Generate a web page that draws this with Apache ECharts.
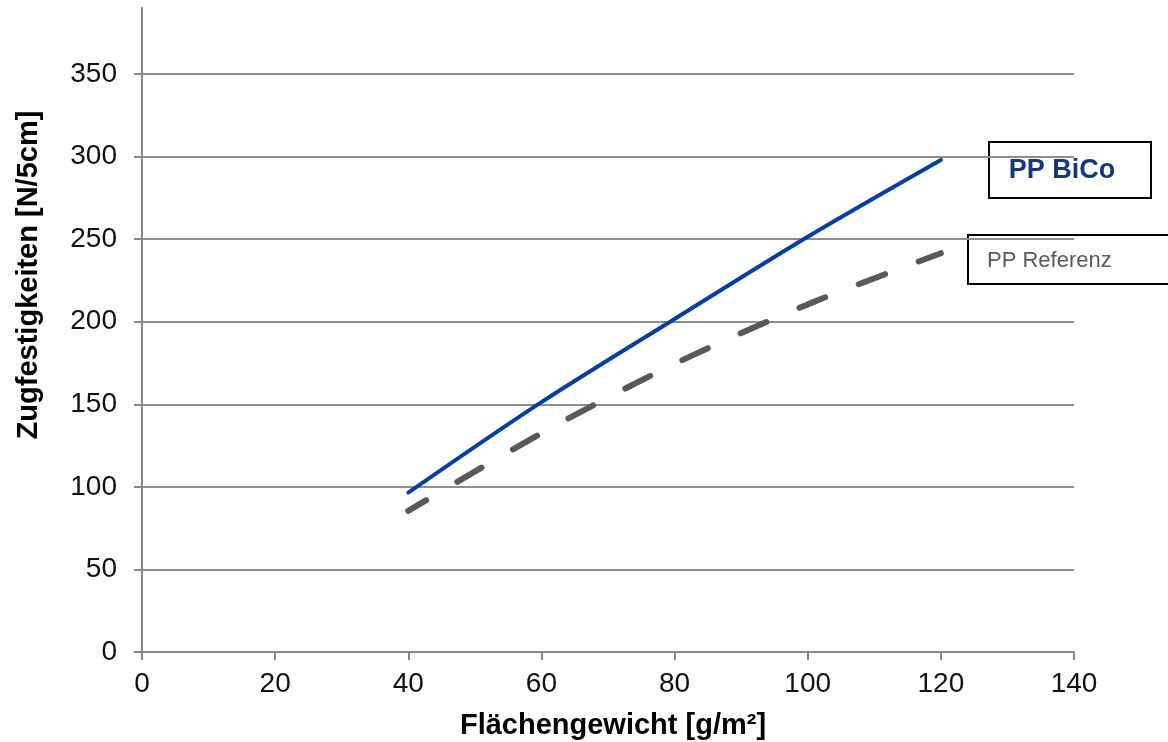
<!DOCTYPE html>
<html>
<head>
<meta charset="utf-8">
<style>
  html, body { margin: 0; padding: 0; background: #fff; }
  #chart { width: 1168px; height: 742px; }
</style>
<script src="https://cdn.jsdelivr.net/npm/echarts@6/dist/echarts.min.js"></script>
</head>
<body>
<div id="chart"></div>
<script>
// Flächengewicht in g/m²
const weights = [40, 60, 80, 100, 120];
// Zugfestigkeiten in N/5cm
const ppBiCo = [96.5, 151.3, 201.7, 251.5, 298];
const ppReferenz = [85.5, 132.5, 174.5, 210.5, 241.5];
// Beschriftete Werte der y-Achse
const yTickValues = [0, 50, 100, 150, 200, 250, 300, 350];

const FONT = 'Liberation Sans';
const AXIS_GREY = '#878787';

const toPoints = ys => weights.map((x, i) => [x, ys[i]]);

const chart = echarts.init(document.getElementById('chart'));
chart.setOption({
  animation: false,
  backgroundColor: '#ffffff',
  grid: { left: 142, right: 94, top: 8, bottom: 90, containLabel: false },
  xAxis: {
    type: 'value',
    min: 0, max: 140, interval: 20,
    axisLine: { show: true, lineStyle: { color: AXIS_GREY, width: 2 } },
    axisTick: { show: true, length: 8, lineStyle: { color: AXIS_GREY, width: 2 } },
    axisLabel: { fontFamily: FONT, fontSize: 28, color: '#111', margin: 18 },
    splitLine: { show: false }
  },
  yAxis: {
    type: 'value',
    min: 0, max: 390, interval: 50,
    axisLine: { show: true, onZero: false, lineStyle: { color: AXIS_GREY, width: 2 } },
    axisTick: { show: true, length: 8, customValues: yTickValues, lineStyle: { color: AXIS_GREY, width: 2 } },
    axisLabel: { fontFamily: FONT, fontSize: 28, color: '#111', margin: 25, customValues: yTickValues },
    splitLine: { show: true, showMinLine: false, lineStyle: { color: '#8e8e8e', width: 2 } }
  },
  series: [
    {
      name: 'PP BiCo',
      type: 'line',
      data: toPoints(ppBiCo),
      smooth: 0.3,
      showSymbol: false,
      lineStyle: { color: '#023e9f', width: 4, cap: 'round' },
      z: 3
    },
    {
      name: 'PP Referenz',
      type: 'line',
      data: toPoints(ppReferenz),
      smooth: 0.3,
      showSymbol: false,
      lineStyle: { color: '#595959', width: 6, type: [28, 36], dashOffset: 7, cap: 'round' },
      z: 2
    }
  ],
  graphic: [
    {
      type: 'text',
      x: 613, y: 726,
      style: {
        text: 'Flächengewicht [g/m²]',
        fontFamily: FONT, fontSize: 29, fontWeight: 'bold', fill: '#000',
        align: 'center', verticalAlign: 'middle'
      }
    },
    {
      type: 'text',
      x: 29, y: 275,
      rotation: Math.PI / 2,
      style: {
        text: 'Zugfestigkeiten [N/5cm]',
        fontFamily: FONT, fontSize: 29, fontWeight: 'bold', fill: '#000',
        align: 'center', verticalAlign: 'middle'
      }
    },
    {
      type: 'group',
      children: [
        {
          type: 'rect',
          shape: { x: 989, y: 142, width: 162, height: 56 },
          style: { fill: '#fff', stroke: '#000', lineWidth: 2 }
        },
        {
          type: 'text',
          x: 1062, y: 171,
          style: {
            text: 'PP BiCo',
            fontFamily: FONT, fontSize: 27, fontWeight: 'bold', fill: '#16377a',
            align: 'center', verticalAlign: 'middle'
          }
        },
        {
          type: 'rect',
          shape: { x: 968, y: 235, width: 230, height: 49 },
          style: { fill: '#fff', stroke: '#000', lineWidth: 2 }
        },
        {
          type: 'text',
          x: 987, y: 261,
          style: {
            text: 'PP Referenz',
            fontFamily: FONT, fontSize: 22, fill: '#595959',
            align: 'left', verticalAlign: 'middle'
          }
        }
      ]
    }
  ]
});
</script>
</body>
</html>
